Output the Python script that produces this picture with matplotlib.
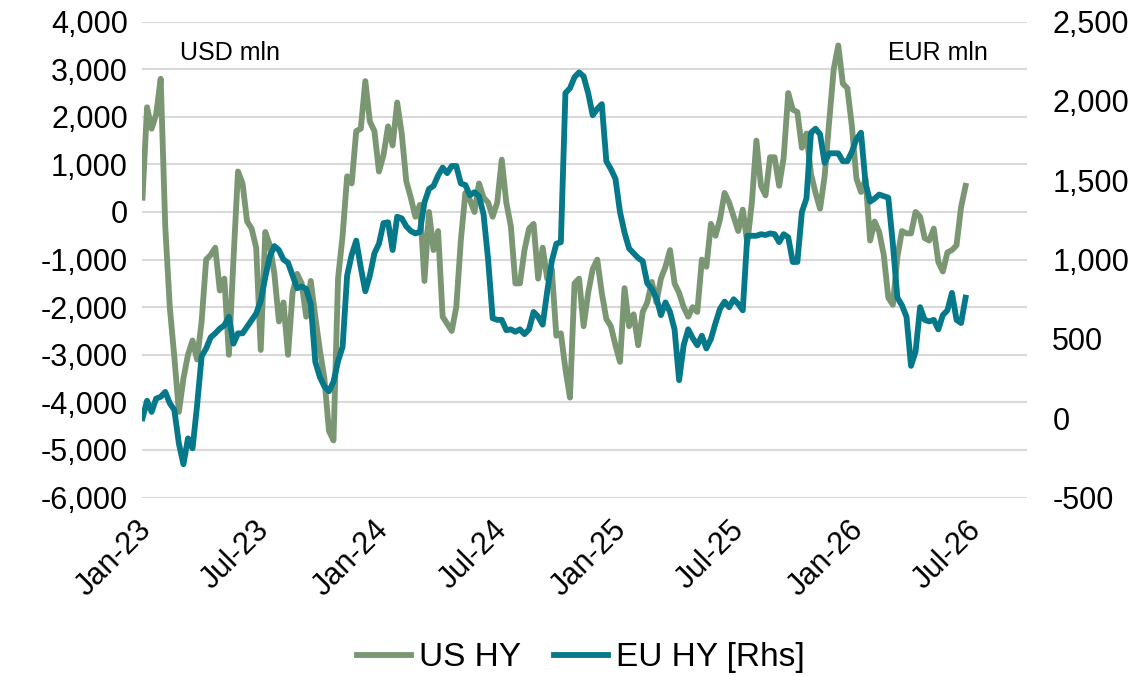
import matplotlib
matplotlib.use("Agg")
import matplotlib.pyplot as plt
import matplotlib.dates as mdates
import matplotlib.ticker as mticker
import matplotlib.transforms as mtransforms
import numpy as np
import pandas as pd

plt.rcParams["font.family"] = ["Liberation Sans", "DejaVu Sans"]

# weekly observations, starting first Monday of 2023
start_date = "2023-01-02"

us_hy = [
    300, 2200, 1750, 2050, 2800, -300, -2000, -3050, -4200, -3500, -3000, -2700,
    -3100, -2300, -1000, -900, -750, -1650, -1400, -3000, -1000, 850, 600, -200,
    -350, -750, -2900, -420, -700, -1300, -2300, -1900, -3000, -1700, -1300, -1500,
    -2200, -1450, -2200, -2900, -3500, -4600, -4800, -1400, -500, 750, 600, 1700,
    1750, 2750, 1900, 1700, 850, 1200, 1800, 1400, 2300, 1650, 650, 300,
    -100, 150, -1450, 0, -800, -400, -2200, -2350, -2500, -2000, -600, 400,
    250, 0, 600, 300, 200, -100, 200, 1100, 200, -300, -1500, -1500,
    -800, -350, -250, -1400, -750, -1400, -1200, -2600, -2550, -3300, -3900, -1500,
    -1400, -2400, -1700, -1200, -1000, -1700, -2250, -2400, -2800, -3150, -1600, -2400,
    -2150, -2800, -2100, -1900, -1470, -1900, -1400, -1150, -800, -1500, -1700, -2000,
    -2200, -2000, -2100, -1000, -1150, -250, -500, -150, 400, 200, -100, -400,
    50, -650, 200, 1500, 550, 350, 1150, 1150, 550, 1150, 2500, 2150,
    2100, 1350, 1650, 800, 400, 70, 750, 1900, 3000, 3500, 2700, 2600,
    1800, 700, 420, 700, -600, -200, -420, -900, -1800, -1950, -950, -400,
    -450, -450, 0, -100, -550, -600, -350, -1050, -1250, -850, -800, -700,
    100, 550,
]

eu_hy = [
    0, 110, 40, 124, 135, 166, 94, 52, -160, -290, -127, -190,
    80, 390, 440, 510, 535, 565, 586, 640, 470, 535, 535, 577,
    620, 660, 740, 890, 1020, 1085, 1060, 1000, 980, 900, 820, 830,
    815, 720, 355, 260, 200, 170, 230, 360, 450, 900, 1030, 1120,
    950, 800, 900, 1040, 1100, 1230, 1235, 1060, 1270, 1260, 1210, 1180,
    1165, 1175, 1360, 1445, 1465, 1530, 1580, 1545, 1590, 1590, 1480, 1470,
    1405, 1425, 1400, 1285, 1000, 630, 620, 620, 555, 560, 545, 560,
    530, 560, 670, 640, 590, 800, 990, 1100, 1110, 2050, 2080, 2150,
    2180, 2155, 2050, 1910, 1950, 1980, 1620, 1570, 1510, 1300, 1170, 1070,
    1040, 1010, 990, 850, 815, 760, 650, 730, 670, 560, 240, 460,
    560, 505, 460, 520, 440, 500, 600, 690, 735, 700, 750, 720,
    680, 1150, 1150, 1150, 1160, 1155, 1165, 1160, 1110, 1160, 1140, 985,
    985, 1300, 1385, 1800, 1825, 1790, 1610, 1670, 1670, 1670, 1620, 1620,
    1680, 1760, 1800, 1480, 1365, 1385, 1410, 1400, 1390, 1100, 760, 712,
    640, 330, 420, 700, 620, 610, 620, 560, 650, 680, 790, 620,
    600, 760,
]

dates = pd.date_range(start_date, periods=len(us_hy), freq="7D")

US_COLOR = "#7a9673"
EU_COLOR = "#05788a"
GRID_COLOR = "#d9d9d9"

fig = plt.figure(figsize=(11.44, 6.76), dpi=100)
ax = fig.add_axes([0.124, 0.264, 0.774, 0.704])
ax2 = ax.twinx()

ax.plot(dates, us_hy, color=US_COLOR, linewidth=4.2, solid_joinstyle="round", label="US HY")
ax2.plot(dates, eu_hy, color=EU_COLOR, linewidth=4.2, solid_joinstyle="round", label="EU HY [Rhs]")

ax.set_ylim(-6000, 4000)
ax.set_yticks(np.arange(-6000, 4001, 1000))
ax2.set_ylim(-500, 2500)
ax2.set_yticks(np.arange(-500, 2501, 500))
fmt = mticker.FuncFormatter(lambda v, p: f"{v:,.0f}")
ax.yaxis.set_major_formatter(fmt)
ax2.yaxis.set_major_formatter(fmt)

ax.set_xlim(pd.Timestamp("2023-01-01"), pd.Timestamp("2026-09-25"))
ax.xaxis.set_major_locator(mdates.MonthLocator(bymonth=[1, 7]))
ax.xaxis.set_major_formatter(mdates.DateFormatter("%b-%y"))

ax.grid(axis="y", color=GRID_COLOR, linewidth=1.5)
ax.set_axisbelow(True)
for a in (ax, ax2):
    for s in a.spines.values():
        s.set_visible(False)
    a.tick_params(length=0, labelsize=22)
ax.tick_params(axis="y", pad=10)
ax2.tick_params(axis="y", pad=18)
ax.tick_params(axis="x", pad=20)
shift = mtransforms.ScaledTranslation(0.05, 0, fig.dpi_scale_trans)
for lbl in ax.get_xticklabels():
    lbl.set_rotation(45)
    lbl.set_ha("right")
    lbl.set_va("center")
    lbl.set_rotation_mode("anchor")
    lbl.set_transform(lbl.get_transform() + shift)

ax.text(0.043, 0.935, "USD mln", transform=ax.transAxes, fontsize=18, ha="left", va="center")
ax.text(0.955, 0.935, "EUR mln", transform=ax.transAxes, fontsize=18, ha="right", va="center")

h1, l1 = ax.get_legend_handles_labels()
h2, l2 = ax2.get_legend_handles_labels()
fig.legend(h1 + h2, l1 + l2, loc="center", bbox_to_anchor=(0.508, 0.027), ncol=2,
           frameon=False, fontsize=24, handlelength=1.6, handletextpad=0.25,
           columnspacing=1.0)

fig.savefig("out.png", dpi=100)
